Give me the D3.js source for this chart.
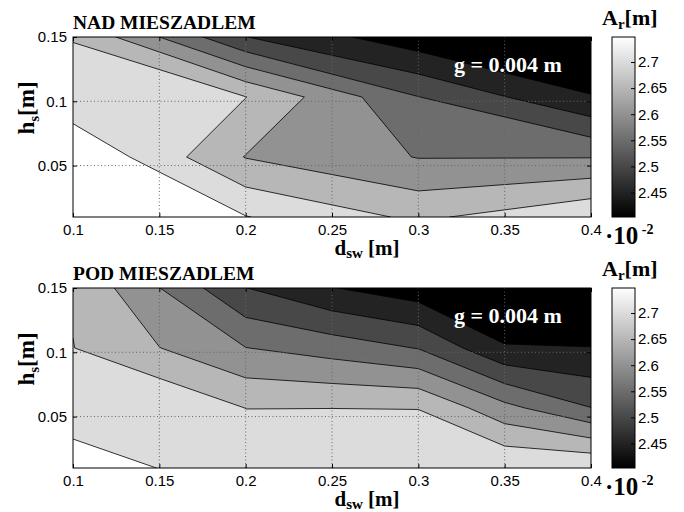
<!DOCTYPE html>
<html>
<head>
<meta charset="utf-8">
<script src="https://cdn.jsdelivr.net/npm/d3@7"></script>
<style>
  body { margin: 0; background: #fff; }
  .tick text { font-family: "Liberation Sans", Arial, sans-serif; font-size: 15px; }
  .lbl { font-family: "Liberation Serif", "Times New Roman", serif; font-weight: bold; }
</style>
</head>
<body>
<script>
// grid of measuring points
const xTop = [0.1, 0.2, 0.3, 0.4];
const xBottom = [0.1, 0.15, 0.2, 0.25, 0.3, 0.35, 0.4];
const yGrid = [0.01, 0.0567, 0.1033, 0.15];

// A_r values [x10^-2 m], rows from y = 0.01 upwards
const zTop = [
  [2.85, 2.752, 2.69, 2.745],
  [2.80, 2.648, 2.598, 2.598],
  [2.71, 2.701, 2.551, 2.452],
  [2.699, 2.501, 2.418, 2.41]
];
const zBottom = [
  [2.778, 2.749, 2.73, 2.726, 2.72, 2.749, 2.749],
  [2.72, 2.748, 2.6995, 2.6998, 2.6995, 2.615, 2.551],
  [2.701, 2.651, 2.601, 2.578, 2.548, 2.455, 2.451],
  [2.695, 2.601, 2.501, 2.452, 2.42, 2.38, 2.40]
];

const levels = [2.45, 2.5, 2.55, 2.6, 2.65, 2.7, 2.75];
const xTicks = [0.1, 0.15, 0.2, 0.25, 0.3, 0.35, 0.4];
const yTicks = [0.05, 0.1, 0.15];
const cbTicks = [2.45, 2.5, 2.55, 2.6, 2.65, 2.7];
const titles = ["NAD MIESZADLEM", "POD MIESZADLEM"];
const cbRange = [2.403, 2.748];

const margin = { top: 37, left: 73 },
      width = 518,
      height = 180;

const svg = d3.select("body").append("svg")
    .attr("width", 684)
    .attr("height", 512);

const color = d3.scaleLinear().domain(cbRange).range(["#000", "#fff"]).clamp(true);

const defs = svg.append("defs");
const grad = defs.append("linearGradient")
    .attr("id", "cbgrad")
    .attr("x1", 0).attr("y1", 1).attr("x2", 0).attr("y2", 0);
grad.append("stop").attr("offset", "0%").attr("stop-color", "#000");
grad.append("stop").attr("offset", "100%").attr("stop-color", "#fff");

const x = d3.scaleLinear().domain([0.1, 0.4]).range([0, width]);
const y = d3.scaleLinear().domain([0.01, 0.15]).range([height, 0]);

function drawPanel(idx, xGrid, z, oy) {
    const g = svg.append("g")
        .attr("transform", `translate(${margin.left},${margin.top + oy})`);

    defs.append("clipPath").attr("id", "clip" + idx)
        .append("rect").attr("width", width).attr("height", height);

    const nx = xGrid.length, ny = yGrid.length;
    const gx = d3.scaleLinear().domain([0.5, nx - 0.5]).range([xGrid[0], xGrid[nx - 1]]);
    const gy = d3.scaleLinear().domain([0.5, ny - 0.5]).range([yGrid[0], yGrid[ny - 1]]);
    const proj = d3.geoTransform({
        point(px, py) { this.stream.point(x(gx(px)), y(gy(py))); }
    });
    const path = d3.geoPath(proj);

    const contours = d3.contours()
        .size([nx, ny])
        .thresholds(levels)(z.flat());

    const plot = g.append("g").attr("clip-path", `url(#clip${idx})`);

    // region below lowest level
    plot.append("rect")
        .attr("width", width).attr("height", height)
        .style("fill", color(cbRange[0]));

    plot.selectAll(".band")
        .data(contours)
        .enter()
        .append("path")
        .attr("class", "band")
        .attr("d", path)
        .style("fill", d => color(d.value))
        .style("stroke", "#000")
        .style("stroke-width", 0.8);

    // dotted grid
    plot.selectAll(".gx")
        .data(xTicks.slice(1, -1))
        .enter().append("line")
        .attr("x1", d => x(d)).attr("x2", d => x(d))
        .attr("y1", 0).attr("y2", height)
        .style("stroke", "#666").style("stroke-dasharray", "1,2.5");
    plot.selectAll(".gy")
        .data(yTicks.slice(0, -1))
        .enter().append("line")
        .attr("x1", 0).attr("x2", width)
        .attr("y1", d => y(d)).attr("y2", d => y(d))
        .style("stroke", "#666").style("stroke-dasharray", "1,2.5");

    // axes
    g.append("g")
        .attr("transform", `translate(0,${height})`)
        .call(d3.axisBottom(x).tickValues(xTicks).tickFormat(d => d).tickSizeInner(-4).tickSizeOuter(0).tickPadding(7));
    g.append("g")
        .call(d3.axisLeft(y).tickValues(yTicks).tickFormat(d => d).tickSizeInner(-4).tickSizeOuter(0).tickPadding(6));
    g.append("g")
        .call(d3.axisTop(x).tickValues(xTicks).tickFormat("").tickSizeInner(-4).tickSizeOuter(0));
    g.append("g")
        .attr("transform", `translate(${width},0)`)
        .call(d3.axisRight(y).tickValues(yTicks).tickFormat("").tickSizeInner(-4).tickSizeOuter(0));
    g.selectAll(".domain").remove();
    g.selectAll(".tick text").style("fill", "#000");

    g.append("rect")
        .attr("width", width).attr("height", height)
        .style("fill", "none").style("stroke", "#000").style("stroke-width", 1);

    // titles and labels
    g.append("text")
        .attr("class", "lbl")
        .attr("x", 0).attr("y", -8)
        .style("font-size", "19.5px")
        .text(titles[idx]);

    g.append("text")
        .attr("class", "lbl")
        .attr("x", 381).attr("y", 35)
        .style("font-size", "22px")
        .style("fill", "#fff")
        .text("g = 0.004 m");

    const yl = g.append("text")
        .attr("class", "lbl")
        .attr("transform", `translate(-39,${height / 2 - 19}) rotate(-90)`)
        .attr("text-anchor", "middle")
        .style("font-size", "23px");
    yl.append("tspan").text("h");
    yl.append("tspan").attr("dy", 5).style("font-size", "15px").text("s");
    yl.append("tspan").attr("dy", -5).text("[m]");

    const xl = g.append("text")
        .attr("class", "lbl")
        .attr("x", 294).attr("y", height + 38)
        .attr("text-anchor", "middle")
        .style("font-size", "21px");
    xl.append("tspan").text("d");
    xl.append("tspan").attr("dy", 3).style("font-size", "15px").text("sw");
    xl.append("tspan").attr("dy", -3).text(" [m]");

    // colorbar
    const cb = svg.append("g")
        .attr("transform", `translate(612,${margin.top + oy})`);
    const cy = d3.scaleLinear().domain(cbRange).range([height, 0]);
    cb.append("rect")
        .attr("width", 23).attr("height", height)
        .style("fill", "url(#cbgrad)");
    cb.append("g")
        .attr("transform", "translate(23,0)")
        .call(d3.axisRight(cy).tickValues(cbTicks).tickFormat(d => d).tickSizeInner(-4).tickSizeOuter(0).tickPadding(3));
    cb.selectAll(".domain").remove();
    cb.append("rect")
        .attr("width", 23).attr("height", height)
        .style("fill", "none").style("stroke", "#000");

    const al = cb.append("text")
        .attr("class", "lbl")
        .attr("x", -10).attr("y", -12)
        .style("font-size", "22px");
    al.append("tspan").text("A");
    al.append("tspan").attr("dy", 4).style("font-size", "15px").text("r");
    al.append("tspan").attr("dy", -4).text("[m]");

    const ex = cb.append("text")
        .attr("class", "lbl")
        .attr("x", -7).attr("y", height + 27)
        .style("font-size", "25px");
    ex.append("tspan").text("\u00b710");
    ex.append("tspan").attr("dy", -10).style("font-size", "14px").text(" -2");
}

drawPanel(0, xTop, zTop, 0);
drawPanel(1, xBottom, zBottom, 251);
</script>
</body>
</html>
